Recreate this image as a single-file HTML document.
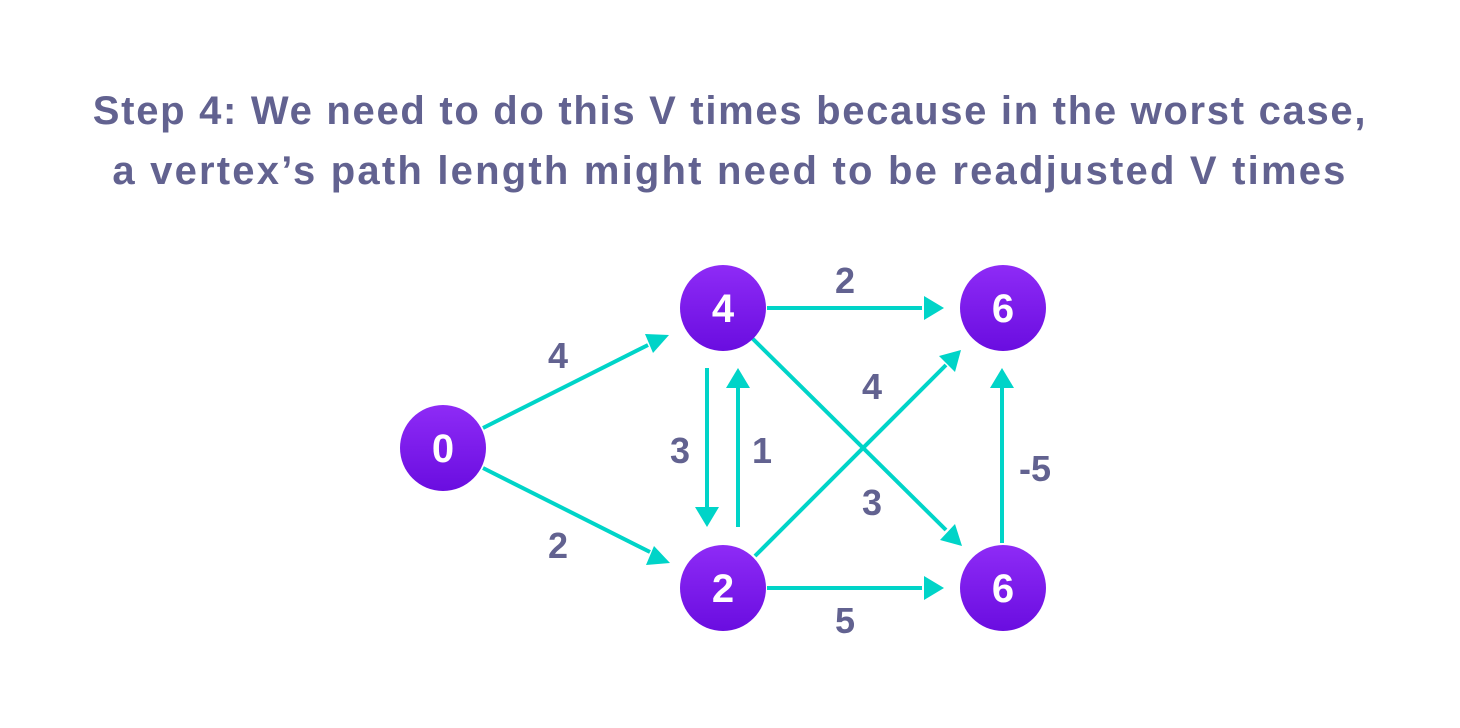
<!DOCTYPE html>
<html><head><style>
html,body{margin:0;padding:0;background:#fff;width:1460px;height:728px;overflow:hidden}
.t{position:absolute;left:0;width:1460px;text-align:center;font-family:"Liberation Sans",sans-serif;font-weight:bold;color:#626290;font-size:40px;line-height:60px;white-space:nowrap}
</style></head><body>
<div class="t" style="top:81px;letter-spacing:1.7px">Step 4: We need to do this V times because in the worst case,</div>
<div class="t" style="top:141px;letter-spacing:2.2px">a vertex’s path length might need to be readjusted V times</div>
<svg width="1460" height="728" style="position:absolute;left:0;top:0">
<defs>
<linearGradient id="g" x1="0" y1="0" x2="0" y2="1"><stop offset="0" stop-color="#8e2bf6"/><stop offset="1" stop-color="#6a0de0"/></linearGradient>
</defs>
<g stroke="#00d4c8" stroke-width="4" fill="none">
<line x1="483" y1="428" x2="648" y2="345"/>
<line x1="483" y1="468" x2="650" y2="552"/>
<line x1="707" y1="368" x2="707" y2="508"/>
<line x1="738" y1="527" x2="738" y2="388"/>
<line x1="767" y1="308" x2="922" y2="308"/>
<line x1="767" y1="588" x2="922" y2="588"/>
<line x1="752" y1="338" x2="946" y2="530"/>
<line x1="755" y1="556" x2="946" y2="365"/>
<line x1="1002" y1="543" x2="1002" y2="388"/>
</g>
<g fill="#00d4c8">
<polygon points="669,335 645,334 653,353"/>
<polygon points="670,563 646,565 654,546"/>
<polygon points="707,527 695,507 719,507"/>
<polygon points="738,368 726,388 750,388"/>
<polygon points="944,308 924,296 924,320"/>
<polygon points="944,588 924,576 924,600"/>
<polygon points="962,546 940,540 955,524"/>
<polygon points="961,350 955,372 939,356"/>
<polygon points="1002,368 990,388 1014,388"/>
</g>
<g fill="url(#g)">
<circle cx="443" cy="448" r="43"/>
<circle cx="723" cy="308" r="43"/>
<circle cx="723" cy="588" r="43"/>
<circle cx="1003" cy="308" r="43"/>
<circle cx="1003" cy="588" r="43"/>
</g>
<g fill="#fff" font-family="Liberation Sans,sans-serif" font-weight="bold" font-size="40" text-anchor="middle">
<text x="443" y="462">0</text>
<text x="723" y="322">4</text>
<text x="723" y="602">2</text>
<text x="1003" y="322">6</text>
<text x="1003" y="602">6</text>
</g>
<g fill="#626290" font-family="Liberation Sans,sans-serif" font-weight="bold" font-size="36" text-anchor="middle">
<text x="558" y="368">4</text>
<text x="558" y="558">2</text>
<text x="680" y="463">3</text>
<text x="762" y="463">1</text>
<text x="845" y="293">2</text>
<text x="872" y="399">4</text>
<text x="872" y="515">3</text>
<text x="845" y="633">5</text>
<text x="1035" y="481">-5</text>
</g>
</svg>
</body></html>
